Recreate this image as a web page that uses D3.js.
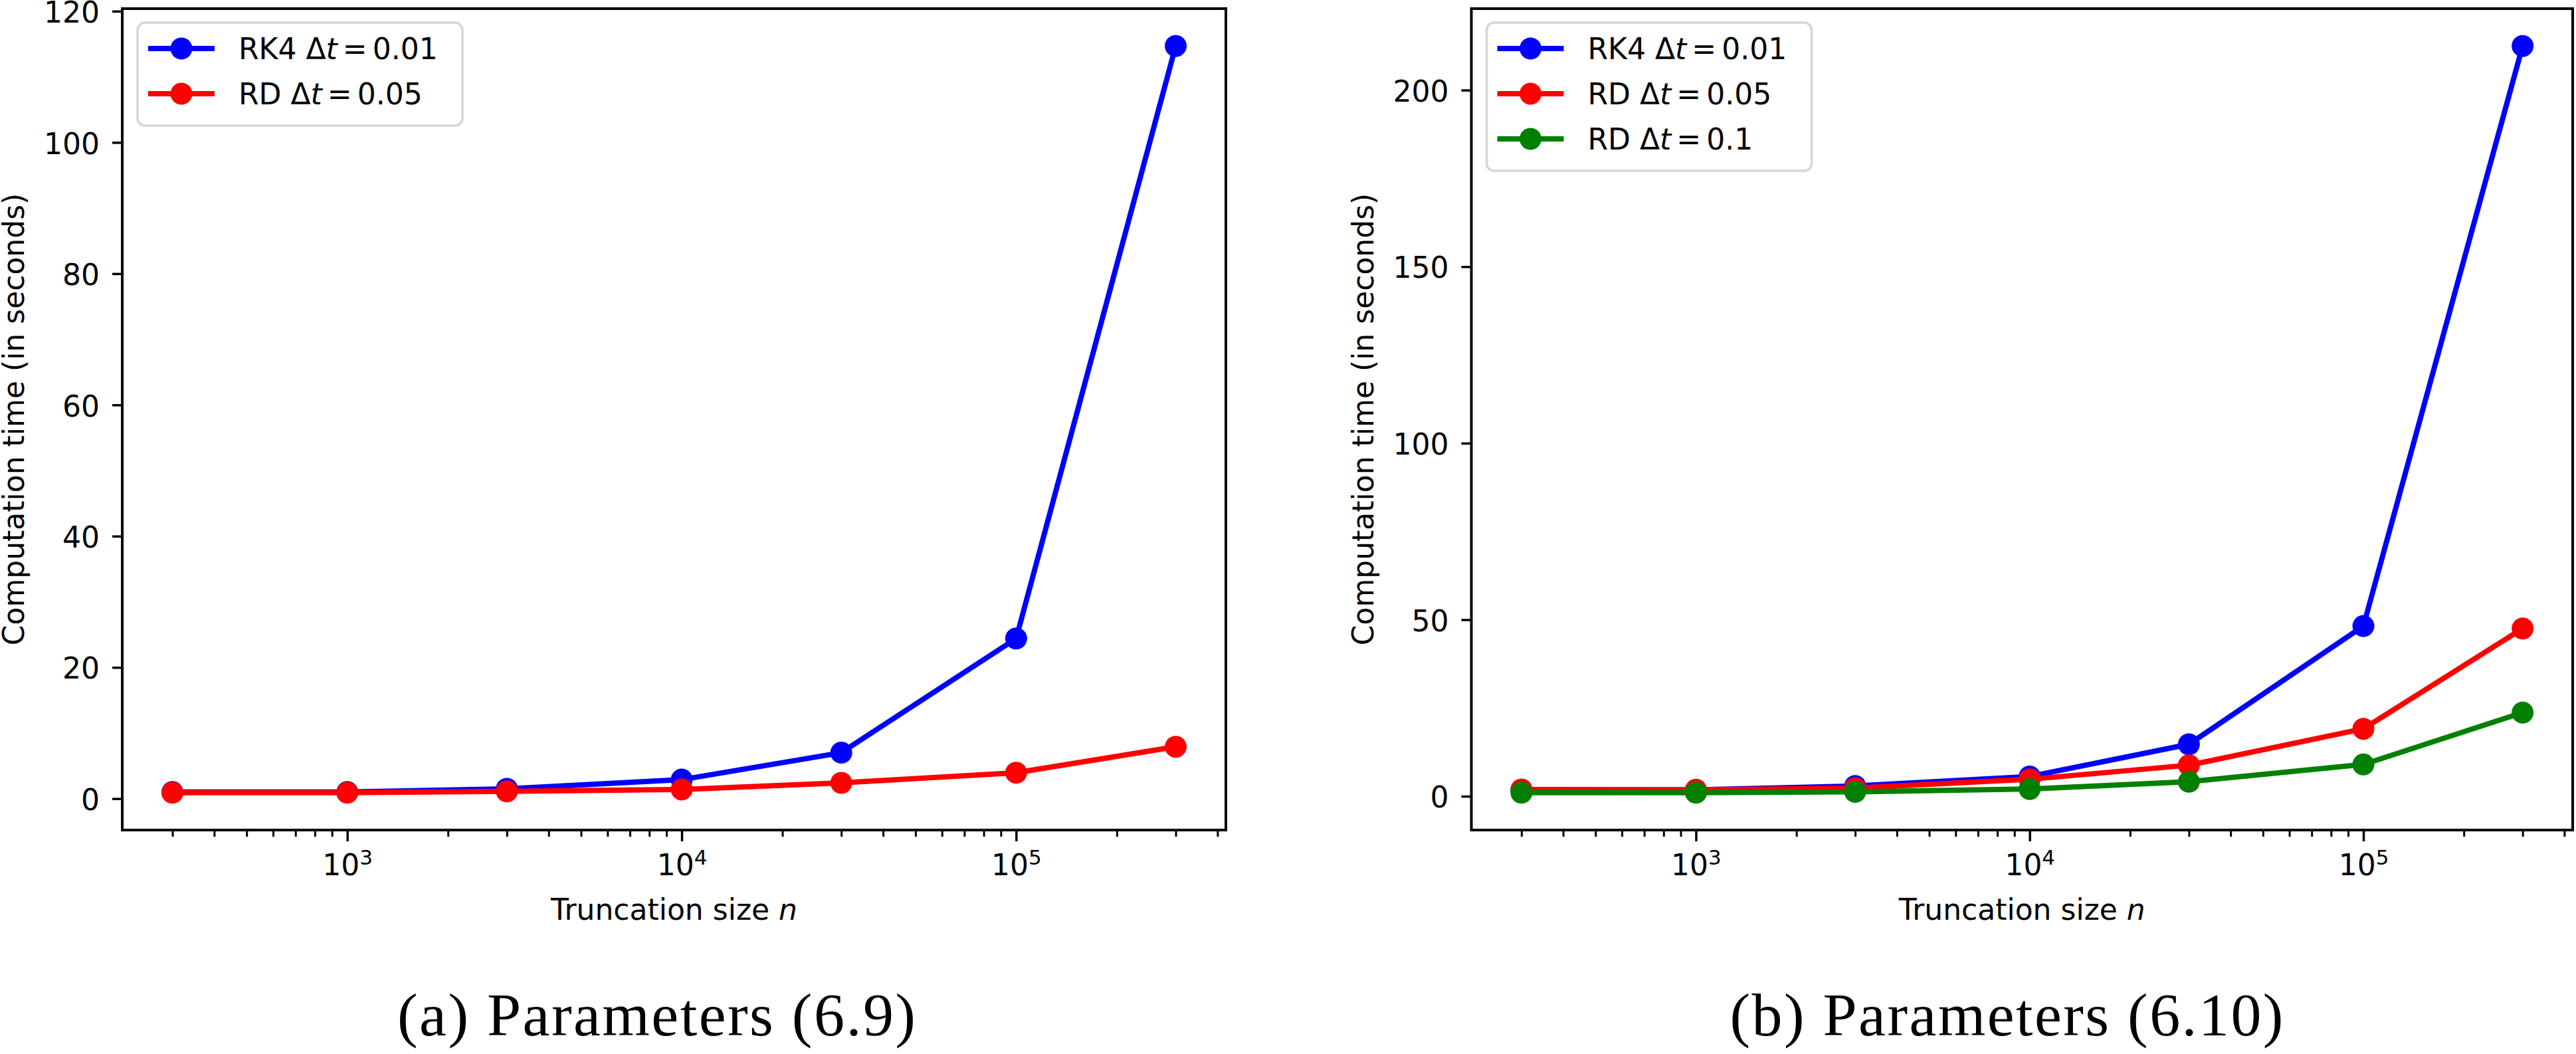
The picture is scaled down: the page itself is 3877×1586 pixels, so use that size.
<!DOCTYPE html>
<html>
<head>
<meta charset="utf-8">
<script src="https://cdn.jsdelivr.net/npm/d3@7"></script>
<style>
  body { margin: 0; background: #fff; }
  svg { display: block; }
</style>
</head>
<body>
<div id="chartHolder"></div>
<script>
// truncation sizes used in both runs
const nValues = [300, 1000, 3000, 10000, 30000, 100000, 300000];

// panel (a), parameters (6.9)
const rk4TimesA = [1.0, 1.0, 1.5, 2.9, 7.0, 24.4, 114.7];
const rd005TimesA = [0.9, 0.9, 1.1, 1.4, 2.4, 3.95, 7.9];

// panel (b), parameters (6.10)
const rk4TimesB = [1.8, 1.8, 2.9, 5.6, 14.7, 48.2, 212.5];
const rd005TimesB = [1.9, 1.8, 2.3, 4.8, 8.8, 19.1, 47.5];
const rd01TimesB = [1.0, 1.0, 1.25, 2.05, 4.1, 9.0, 23.7];

const seriesNames = ["RK4", "RD", "RD"];
const seriesSteps = ["0.01", "0.05", "0.1"];
const seriesColors = ["#0000ff", "#ff0000", "#008000"];

const yTicksA = [0, 20, 40, 60, 80, 100, 120];
const yTicksB = [0, 50, 100, 150, 200];
const xTickExponents = [3, 4, 5];

const yLabel = "Computation time (in seconds)";
const xLabel = "Truncation size ";
const captions = ["(a) Parameters (6.9)", "(b) Parameters (6.10)"];

const width = 3877, height = 1586;
const sans = "DejaVu Sans";

const svg = d3.select("#chartHolder")
  .append("svg")
  .attr("width", width)
  .attr("height", height);

svg.append("rect").attr("width", width).attr("height", height).attr("fill", "#fff");

function drawPanel(p) {
  const allVals = p.series.flat();
  const lo = Math.log10(d3.min(nValues)), hi = Math.log10(d3.max(nValues));
  const padX = (hi - lo) * 0.05;
  const x = d3.scaleLog()
    .domain([10 ** (lo - padX), 10 ** (hi + padX)])
    .range([p.left, p.right]);

  const yMin = d3.min(allVals), yMax = d3.max(allVals);
  const padY = (yMax - yMin) * 0.05;
  const y = d3.scaleLinear()
    .domain([yMin - padY, yMax + padY])
    .range([p.bottom, p.top]);

  const g = svg.append("g");

  // minor x ticks
  const [d0, d1] = x.domain();
  const minors = [];
  for (let e = Math.floor(Math.log10(d0)); e <= Math.ceil(Math.log10(d1)); e++) {
    for (let m = 2; m <= 9; m++) {
      const v = m * 10 ** e;
      if (v >= d0 && v <= d1) minors.push(v);
    }
  }
  const minorAxis = g.append("g")
    .attr("transform", `translate(0,${p.bottom})`)
    .call(d3.axisBottom(x).tickValues(minors).tickSize(10).tickFormat(""));
  minorAxis.select(".domain").remove();
  minorAxis.selectAll("line").attr("stroke", "#000").attr("stroke-width", 3);

  // major x ticks with 10^k labels
  const xAxis = g.append("g")
    .attr("transform", `translate(0,${p.bottom})`)
    .call(d3.axisBottom(x)
      .tickValues(xTickExponents.map(e => 10 ** e))
      .tickSize(17).tickPadding(20).tickFormat(""));
  xAxis.select(".domain").remove();
  xAxis.selectAll("line").attr("stroke", "#000").attr("stroke-width", 3.5);
  xAxis.selectAll(".tick text")
    .attr("fill", "#000")
    .attr("font-family", sans)
    .attr("font-size", 44)
    .each(function(d, i) {
      const t = d3.select(this);
      t.text("10");
      t.append("tspan")
        .attr("font-size", 31)
        .attr("dy", -16)
        .text(xTickExponents[i]);
    });

  // y ticks
  const yAxis = g.append("g")
    .attr("transform", `translate(${p.left},0)`)
    .call(d3.axisLeft(y).tickValues(p.yTicks).tickSize(15).tickPadding(19));
  yAxis.select(".domain").remove();
  yAxis.selectAll("line").attr("stroke", "#000").attr("stroke-width", 3.5);
  yAxis.selectAll("text")
    .attr("fill", "#000")
    .attr("font-family", sans)
    .attr("font-size", 44)
    .attr("dy", "0.38em");

  // series: line then markers, one after another
  const line = d3.line().x((d, i) => x(nValues[i])).y(d => y(d));
  p.series.forEach((vals, s) => {
    g.append("path")
      .datum(vals)
      .attr("fill", "none")
      .attr("stroke", seriesColors[s])
      .attr("stroke-width", 8)
      .attr("stroke-linejoin", "round")
      .attr("stroke-linecap", "square")
      .attr("d", line);
    g.append("g")
      .selectAll("circle")
      .data(vals)
      .join("circle")
      .attr("cx", (d, i) => x(nValues[i]))
      .attr("cy", d => y(d))
      .attr("r", 16.5)
      .attr("fill", seriesColors[s]);
  });

  // spines
  g.append("rect")
    .attr("x", p.left).attr("y", p.top)
    .attr("width", p.right - p.left).attr("height", p.bottom - p.top)
    .attr("fill", "none").attr("stroke", "#000").attr("stroke-width", 4);

  // legend
  const lx = p.left + 23, ly = 34;
  const leg = g.append("g").attr("transform", `translate(${lx},${ly})`);
  leg.append("rect")
    .attr("width", 489)
    .attr("height", 68 * p.series.length + 19)
    .attr("rx", 11)
    .attr("fill", "#fff").attr("fill-opacity", 0.8)
    .attr("stroke", "#d6d6d6").attr("stroke-width", 3.5);
  p.series.forEach((vals, s) => {
    const ry = 39 + s * 68;
    leg.append("line")
      .attr("x1", 16).attr("x2", 116).attr("y1", ry).attr("y2", ry)
      .attr("stroke", seriesColors[s]).attr("stroke-width", 8);
    leg.append("circle")
      .attr("cx", 66).attr("cy", ry).attr("r", 16.5)
      .attr("fill", seriesColors[s]);
    const t = leg.append("text")
      .attr("x", 152).attr("y", ry + 16)
      .attr("font-family", sans).attr("font-size", 44).attr("fill", "#000");
    t.append("tspan").text(seriesNames[s] + " \u0394");
    t.append("tspan").attr("font-style", "italic").text("t");
    t.append("tspan").attr("dx", 8).text("=");
    t.append("tspan").attr("dx", 8).text(seriesSteps[s]);
  });

  // axis labels
  const xl = g.append("text")
    .attr("x", (p.left + p.right) / 2).attr("y", 1384)
    .attr("text-anchor", "middle")
    .attr("font-family", sans).attr("font-size", 44).attr("fill", "#000");
  xl.append("tspan").text(xLabel);
  xl.append("tspan").attr("font-style", "italic").text("n");

  g.append("text")
    .attr("transform", `translate(${p.yLabelX},${(p.top + p.bottom) / 2}) rotate(-90)`)
    .attr("text-anchor", "middle")
    .attr("font-family", sans).attr("font-size", 44).attr("fill", "#000")
    .text(yLabel);

  // caption
  g.append("text")
    .attr("x", p.captionX).attr("y", 1558)
    .attr("text-anchor", "middle")
    .attr("font-family", "Liberation Serif")
    .attr("font-size", 92)
    .attr("textLength", p.captionWidth)
    .attr("lengthAdjust", "spacing")
    .attr("fill", "#000")
    .text(p.caption);
}

drawPanel({
  left: 184, right: 1845, top: 13, bottom: 1249,
  series: [rk4TimesA, rd005TimesA],
  yTicks: yTicksA,
  yLabelX: 36,
  caption: captions[0], captionX: 988, captionWidth: 780
});

drawPanel({
  left: 2214.5, right: 3872, top: 13, bottom: 1249,
  series: [rk4TimesB, rd005TimesB, rd01TimesB],
  yTicks: yTicksB,
  yLabelX: 2067,
  caption: captions[1], captionX: 3020, captionWidth: 833
});
</script>
</body>
</html>
